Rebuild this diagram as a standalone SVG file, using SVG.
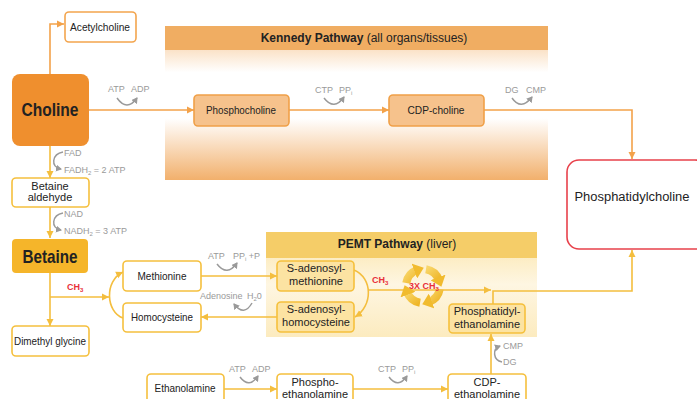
<svg xmlns="http://www.w3.org/2000/svg" width="697" height="399" viewBox="0 0 697 399">
<defs>
<linearGradient id="kgrad" x1="0" y1="0" x2="0" y2="1">
<stop offset="0" stop-color="#f6c38c"/>
<stop offset="0.3" stop-color="#ffffff"/>
<stop offset="0.6" stop-color="#ffffff"/>
<stop offset="1" stop-color="#f2b06c"/>
</linearGradient>
<linearGradient id="pgrad" x1="0" y1="0" x2="0" y2="1">
<stop offset="0" stop-color="#fbe4a6"/>
<stop offset="0.5" stop-color="#fef6e2"/>
<stop offset="1" stop-color="#fcebbf"/>
</linearGradient>
<linearGradient id="cyc" x1="0" y1="0" x2="1" y2="1">
<stop offset="0" stop-color="#f8d66a"/>
<stop offset="1" stop-color="#efb526"/>
</linearGradient>
<marker id="ao" markerUnits="userSpaceOnUse" markerWidth="8" markerHeight="8" refX="7" refY="4" orient="auto"><path d="M0,0.5 L7,4 L0,7.5 Z" fill="#f3a24a"/></marker>
<marker id="ay" markerUnits="userSpaceOnUse" markerWidth="8" markerHeight="8" refX="7" refY="4" orient="auto"><path d="M0,0.5 L7,4 L0,7.5 Z" fill="#f4be3e"/></marker>
<marker id="ag" markerUnits="userSpaceOnUse" markerWidth="7" markerHeight="7" refX="5" refY="3.5" orient="auto"><path d="M0,0 L6,3.5 L0,7 Z" fill="#9a9a9a"/></marker>
<marker id="ac" markerUnits="userSpaceOnUse" markerWidth="16" markerHeight="16" refX="3" refY="8" orient="auto"><path d="M0,0 L10,8 L0,16 Z" fill="#f1bb2e"/></marker>
</defs>
<style>
text{font-family:"Liberation Sans",Arial,sans-serif;fill:#222}
.n{font-size:11px;text-anchor:middle}
.g{font-size:9px;fill:#9a9a9a}
.r{font-size:9px;fill:#e8303a;font-weight:bold}
.lo{fill:none;stroke:#f3a24a;stroke-width:1.6}
.ly{fill:none;stroke:#f4be3e;stroke-width:1.6}
.cg{fill:none;stroke:#9a9a9a;stroke-width:1.5}
.bo{fill:#fff;stroke:#f3a54e;stroke-width:1.6}
.by{fill:#fff;stroke:#f5c03e;stroke-width:1.6}
.ko{fill:#f6c28c;stroke:#f0a048;stroke-width:1.6}
.py{fill:#fce3a2;stroke:#f5c03c;stroke-width:1.6}
.arc{fill:none;stroke:url(#cyc);stroke-width:8}
</style>

<g id="kennedy-panel">
<rect x="165" y="26" width="383" height="154" fill="url(#kgrad)"/>
<rect x="165" y="26" width="383" height="24" fill="#f0ad62"/>
<text x="364" y="42" font-size="12" text-anchor="middle"><tspan font-weight="bold">Kennedy Pathway</tspan> (all organs/tissues)</text>
</g>
<g id="pemt-panel">
<rect x="266" y="232" width="271" height="105" fill="url(#pgrad)"/>
<rect x="266" y="232" width="271" height="26" fill="#f5cd68"/>
<text x="397" y="248" font-size="12" text-anchor="middle"><tspan font-weight="bold">PEMT Pathway</tspan> (liver)</text>
</g>

<g id="connectors">
<path class="lo" d="M50,74 V24 H64" marker-end="url(#ao)"/>
<path class="lo" d="M89,110 H194" marker-end="url(#ao)"/>
<path class="lo" d="M289,110 H389" marker-end="url(#ao)"/>
<path class="lo" d="M484,110 H632 V159" marker-end="url(#ao)"/>
<path class="ly" d="M50,146 V178" marker-end="url(#ay)"/>
<path class="ly" d="M50,207 V238" marker-end="url(#ay)"/>
<path class="ly" d="M50,273 V326" marker-end="url(#ay)"/>
<path class="ly" d="M50,297 H109" marker-end="url(#ay)"/>
<path class="ly" d="M123,318 C106,312 104,281 123,272" marker-end="url(#ay)"/>
<path class="ly" d="M201,276 H277" marker-end="url(#ay)"/>
<path class="ly" d="M277,317 H201" marker-end="url(#ay)"/>
<path class="ly" d="M354,270 C373,278 373,306 355,317" marker-end="url(#ay)"/>
<path class="ly" d="M368,290 H491" marker-end="url(#ay)"/>
<path class="ly" d="M493,304 V291 H632 V250" marker-end="url(#ay)"/>
<path class="ly" d="M224,389 H277" marker-end="url(#ay)"/>
<path class="ly" d="M353,389 H448" marker-end="url(#ay)"/>
<path class="ly" d="M491,374 V334" marker-end="url(#ay)"/>
</g>

<g id="cofactors">
<text class="g" x="108" y="92">ATP</text><text class="g" x="131" y="92">ADP</text>
<path class="cg" d="M117,98 Q127,112 137,98" marker-end="url(#ag)"/>
<text class="g" x="315" y="93">CTP</text><text class="g" x="339" y="93">PP<tspan font-size="6" dy="2">i</tspan></text>
<path class="cg" d="M324,98 Q334,111 344,97" marker-end="url(#ag)"/>
<text class="g" x="505" y="93">DG</text><text class="g" x="526" y="93">CMP</text>
<path class="cg" d="M512,98 Q521,111 532,97" marker-end="url(#ag)"/>
<text class="g" x="64" y="156">FAD</text>
<text class="g" x="64" y="173">FADH<tspan font-size="6" dy="2">2</tspan><tspan dy="-2"> = 2 ATP</tspan></text>
<path class="cg" d="M63,152 C52,154 50,167 61,169" marker-end="url(#ag)"/>
<text class="g" x="64" y="217">NAD</text>
<text class="g" x="64" y="234">NADH<tspan font-size="6" dy="2">2</tspan><tspan dy="-2"> = 3 ATP</tspan></text>
<path class="cg" d="M63,213 C52,215 50,228 61,230" marker-end="url(#ag)"/>
<text class="g" x="208" y="259">ATP</text><text class="g" x="233" y="259">PP<tspan font-size="6" dy="2">i</tspan><tspan dy="-2"> +P</tspan></text>
<path class="cg" d="M217,264 Q227,277 237,263" marker-end="url(#ag)"/>
<text class="g" x="200" y="299">Adenosine</text><text class="g" x="247" y="299">H<tspan font-size="6" dy="2">2</tspan><tspan dy="-2">0</tspan></text>
<path class="cg" d="M252,303 Q244,317 234,304" marker-end="url(#ag)"/>
<text class="g" x="229" y="372">ATP</text><text class="g" x="252" y="372">ADP</text>
<path class="cg" d="M240,377 Q249,389 258,376" marker-end="url(#ag)"/>
<text class="g" x="378" y="372">CTP</text><text class="g" x="402" y="372">PP<tspan font-size="6" dy="2">i</tspan></text>
<path class="cg" d="M389,377 Q398,389 407,376" marker-end="url(#ag)"/>
<text class="g" x="503" y="349">CMP</text>
<text class="g" x="503" y="365">DG</text>
<path class="cg" d="M502,362 C493,360 492,349 500,346" marker-end="url(#ag)"/>
<text class="r" x="67" y="290">CH<tspan font-size="6" dy="2">3</tspan></text>
<text class="r" x="372" y="283">CH<tspan font-size="6" dy="2">3</tspan></text>
</g>

<g id="cycle" transform="translate(0,-4)">
<path class="arc" d="M425.96,273.25 A17,17 0 0 1 438.98,284.19" marker-end="url(#ac)"/>
<path class="arc" d="M439.74,292.95 A17,17 0 0 1 428.81,305.97" marker-end="url(#ac)"/>
<path class="arc" d="M420.05,306.74 A17,17 0 0 1 407.03,295.81" marker-end="url(#ac)"/>
<path class="arc" d="M406.26,287.05 A17,17 0 0 1 417.19,274.03" marker-end="url(#ac)"/>
<text class="r" x="424" y="293" text-anchor="middle">3X CH<tspan font-size="6" dy="2">3</tspan></text>
</g>

<g id="acetylcholine"><rect class="bo" x="65" y="12" width="71" height="30" rx="4"/><text class="n" x="100" y="31" textLength="60" lengthAdjust="spacingAndGlyphs">Acetylcholine</text></g>
<g id="choline"><rect x="12" y="74" width="77" height="72" rx="8" fill="#ef8f2e"/><text x="50" y="116" font-size="19" font-weight="bold" text-anchor="middle" textLength="57" lengthAdjust="spacingAndGlyphs">Choline</text></g>
<g id="phosphocholine"><rect class="ko" x="194" y="95" width="95" height="31" rx="4"/><text class="n" x="241" y="114" textLength="70" lengthAdjust="spacingAndGlyphs">Phosphocholine</text></g>
<g id="cdp-choline"><rect class="ko" x="389" y="95" width="95" height="31" rx="4"/><text class="n" x="436" y="114" textLength="57" lengthAdjust="spacingAndGlyphs">CDP-choline</text></g>
<g id="phosphatidylcholine"><rect x="567" y="160" width="140" height="89" rx="12" fill="#fff" stroke="#e8414b" stroke-width="1.6"/><text x="632" y="201" font-size="12.5" text-anchor="middle" textLength="115" lengthAdjust="spacingAndGlyphs">Phosphatidylcholine</text></g>
<g id="betaine-aldehyde"><rect class="by" x="12" y="178" width="77" height="29" rx="4"/><text class="n" x="50" y="190">Betaine</text><text class="n" x="50" y="201">aldehyde</text></g>
<g id="betaine"><rect x="12" y="239" width="76" height="34" rx="4" fill="#f5b52a"/><text x="50" y="263" font-size="19" font-weight="bold" text-anchor="middle" textLength="55" lengthAdjust="spacingAndGlyphs">Betaine</text></g>
<g id="dimethyl-glycine"><rect class="by" x="12" y="326" width="77" height="30" rx="4"/><text class="n" x="50" y="345" textLength="72" lengthAdjust="spacingAndGlyphs">Dimethyl glycine</text></g>
<g id="methionine"><rect class="by" x="123" y="261" width="78" height="30" rx="4"/><text class="n" x="162" y="280" textLength="49" lengthAdjust="spacingAndGlyphs">Methionine</text></g>
<g id="homocysteine"><rect class="by" x="123" y="303" width="78" height="29" rx="4"/><text class="n" x="162" y="321" textLength="62" lengthAdjust="spacingAndGlyphs">Homocysteine</text></g>
<g id="sam"><rect class="py" x="277" y="261" width="77" height="30" rx="4"/><text class="n" x="316" y="272">S-adenosyl-</text><text class="n" x="316" y="285">methionine</text></g>
<g id="sah"><rect class="py" x="277" y="302" width="77" height="30" rx="4"/><text class="n" x="316" y="313">S-adenosyl-</text><text class="n" x="316" y="326">homocysteine</text></g>
<g id="pe"><rect class="py" x="449" y="304" width="76" height="29" rx="4"/><text class="n" x="487" y="315">Phosphatidyl-</text><text class="n" x="487" y="328">ethanolamine</text></g>
<g id="ethanolamine"><rect class="by" x="147" y="374" width="77" height="32" rx="4"/><text class="n" x="185" y="392" textLength="61" lengthAdjust="spacingAndGlyphs">Ethanolamine</text></g>
<g id="phosphoethanolamine"><rect class="by" x="277" y="374" width="76" height="32" rx="4"/><text class="n" x="315" y="386">Phospho-</text><text class="n" x="315" y="398">ethanolamine</text></g>
<g id="cdp-ethanolamine"><rect class="by" x="448" y="374" width="78" height="32" rx="4"/><text class="n" x="487" y="386">CDP-</text><text class="n" x="487" y="398">ethanolamine</text></g>
</svg>
